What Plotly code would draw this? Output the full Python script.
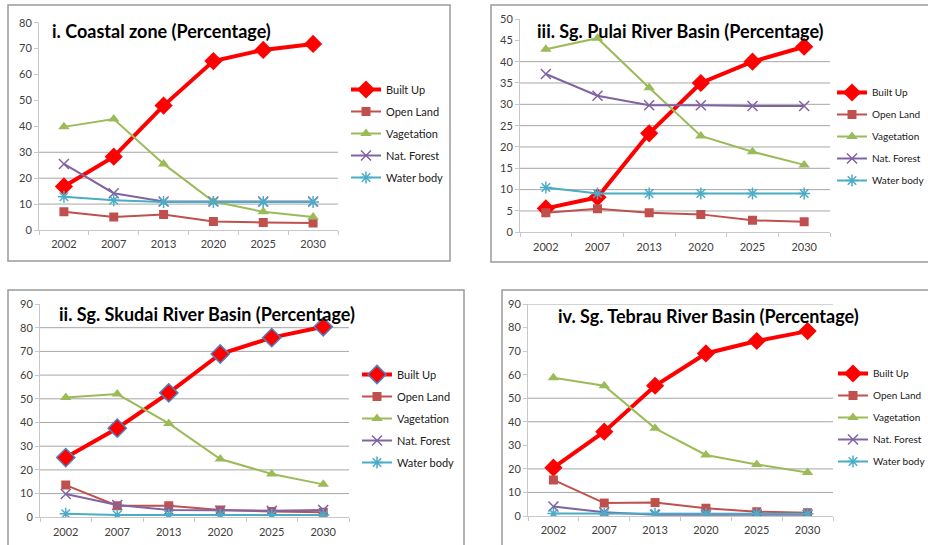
import plotly.graph_objects as go

W, H = 928, 545

years = ["2002", "2007", "2013", "2020", "2025", "2030"]
series_names = ["Built Up", "Open Land", "Vagetation", "Nat. Forest", "Water body"]

coastal_built = [16.8, 28.3, 48.0, 65.2, 69.5, 71.8]
coastal_open = [7.0, 5.0, 6.0, 3.3, 2.9, 2.7]
coastal_veg = [39.8, 42.8, 25.5, 11.0, 7.0, 5.0]
coastal_forest = [25.5, 14.2, 11.0, 11.0, 11.0, 11.0]
coastal_water = [12.8, 11.5, 10.8, 10.8, 10.8, 10.8]

pulai_built = [5.6, 8.2, 23.2, 35.0, 40.0, 43.5]
pulai_open = [4.6, 5.5, 4.6, 4.2, 2.8, 2.5]
pulai_veg = [42.9, 45.5, 33.9, 22.6, 18.9, 15.8]
pulai_forest = [37.1, 32.0, 29.8, 29.8, 29.6, 29.6]
pulai_water = [10.5, 9.1, 9.1, 9.1, 9.1, 9.1]

skudai_built = [25.2, 37.6, 52.5, 68.9, 75.8, 80.4]
skudai_open = [13.6, 4.9, 4.9, 3.1, 2.4, 2.1]
skudai_veg = [50.5, 52.0, 39.6, 24.6, 18.3, 13.9]
skudai_forest = [9.8, 5.2, 3.1, 2.8, 2.8, 3.1]
skudai_water = [1.5, 1.0, 1.0, 1.0, 1.0, 1.0]

tebrau_built = [20.5, 35.8, 55.3, 69.0, 74.3, 78.5]
tebrau_open = [15.3, 5.5, 5.7, 3.3, 1.8, 1.4]
tebrau_veg = [58.7, 55.3, 37.2, 25.9, 21.9, 18.5]
tebrau_forest = [4.0, 1.6, 0.5, 0.5, 0.5, 0.5]
tebrau_water = [1.1, 1.0, 1.0, 1.0, 1.0, 1.0]

titles = [
    "i. Coastal zone (Percentage)",
    "iii. Sg. Pulai River Basin (Percentage)",
    "ii. Sg. Skudai River Basin (Percentage)",
    "iv. Sg. Tebrau River Basin (Percentage)",
]
y_max = [80, 50, 90, 90]
y_step = [10, 5, 10, 10]
grid_values = [
    [10, 20, 30],
    [5, 10, 15, 20, 25, 30, 35, 40],
    [10, 20, 30, 40, 50, 60, 70, 80],
    [10, 20, 40, 50, 90],
]

panels_data = [
    [coastal_built, coastal_open, coastal_veg, coastal_forest, coastal_water],
    [pulai_built, pulai_open, pulai_veg, pulai_forest, pulai_water],
    [skudai_built, skudai_open, skudai_veg, skudai_forest, skudai_water],
    [tebrau_built, tebrau_open, tebrau_veg, tebrau_forest, tebrau_water],
]

# layout in pixels: plot x0, x1, y(0), y(top); title pos; legend pos; border box
geo = [
    dict(x0=39, x1=338, yb=230, yt=22.7, tx=50, ty=31, lx=346, ly=75, lf=11, box=(8, 5, 450, 261)),
    dict(x0=520, x1=830, yb=232.3, yt=19, tx=535, ty=31, lx=832, ly=78, lf=10, box=(491, 5, 935, 262)),
    dict(x0=40, x1=349, yb=517.3, yt=304, tx=57, ty=314, lx=357, ly=360, lf=11, box=(8, 290, 464, 560)),
    dict(x0=528, x1=833, yb=516, yt=304, tx=556, ty=316, lx=833, ly=359, lf=10, box=(502, 290, 935, 560)),
]

colors = ["#FF0000", "#C0504D", "#9BBB59", "#8064A2", "#4BACC6"]
symbols = ["diamond", "square", "triangle-up", "x-thin-open", "asterisk-open"]
msizes = [14, 9, 10, 10, 10]
lwidths = [4, 2, 2, 2, 2]

FONT = "Lato"

fig = go.Figure()
shapes = []
annotations = []
layout = {}

for i, g in enumerate(geo):
    n = "" if i == 0 else str(i + 1)
    xa, ya = "x" + n, "y" + n
    leg = "legend" + n
    for k, name in enumerate(series_names):
        mline = dict(width=0)
        if k == 0 and i == 2:
            mline = dict(width=1.5, color="#4F81BD")
        if k >= 3:
            mline = dict(width=1.5, color=colors[k])
        fig.add_trace(go.Scatter(
            x=years, y=panels_data[i][k], name=name, mode="lines+markers",
            line=dict(color=colors[k], width=lwidths[k]),
            marker=dict(symbol=symbols[k], size=msizes[k], color=colors[k], line=mline),
            xaxis=xa, yaxis=ya, legend=leg, legendgroup="g%d_%d" % (i, k),
        ))
    layout["xaxis" + n] = dict(
        domain=[g["x0"] / W, g["x1"] / W], anchor=ya, type="category",
        range=[-0.5, 5.5], showgrid=False, showline=True, linecolor="#c8c8c8",
        ticks="outside", tickson="boundaries", ticklen=4, tickcolor="#c8c8c8",
        ticklabelstandoff=4,
        tickfont=dict(family=FONT, size=11, color="#404040"), fixedrange=True,
        automargin=False,
    )
    layout["yaxis" + n] = dict(
        domain=[1 - g["yb"] / H, 1 - g["yt"] / H], anchor=xa,
        range=[0, y_max[i]], dtick=y_step[i], tick0=0, showgrid=False,
        showline=True, linecolor="#c8c8c8", ticks="outside", ticklen=4,
        tickcolor="#c8c8c8", zeroline=False,
        tickfont=dict(family=FONT, size=11, color="#404040"), fixedrange=True,
        automargin=False,
    )
    layout[leg] = dict(
        x=g["lx"] / W, y=1 - g["ly"] / H, xanchor="left", yanchor="top",
        bgcolor="rgba(0,0,0,0)", font=dict(family=FONT, size=g["lf"], color="#202020"),
        itemwidth=30, tracegroupgap=3,
    )
    for gv in grid_values[i]:
        shapes.append(dict(
            type="line", xref=xa + " domain", yref=ya, x0=0, x1=1, y0=gv, y1=gv,
            line=dict(color="#a6a6a6", width=1), layer="below",
        ))
    bx0, by0, bx1, by1 = g["box"]
    shapes.append(dict(
        type="rect", xref="paper", yref="paper",
        x0=bx0 / W, x1=bx1 / W, y0=1 - by1 / H, y1=1 - by0 / H,
        line=dict(color="#9a9a9a", width=1.5), layer="below",
    ))
    annotations.append(dict(
        text="<b>" + titles[i] + "</b>", xref="paper", yref="paper",
        x=g["tx"] / W, y=1 - g["ty"] / H, xanchor="left", yanchor="middle",
        showarrow=False, font=dict(family=FONT, size=18, color="#000000"),
    ))

fig.update_layout(
    template="none",
    width=W, height=H, margin=dict(l=0, r=0, t=0, b=0, pad=0, autoexpand=False),
    paper_bgcolor="white", plot_bgcolor="rgba(0,0,0,0)",
    shapes=shapes, annotations=annotations, showlegend=True,
    **layout,
)

fig.write_html(
    "out.html",
    config={"displayModeBar": False},
    post_script="document.body.style.margin='0';document.body.style.overflow='hidden';",
)
